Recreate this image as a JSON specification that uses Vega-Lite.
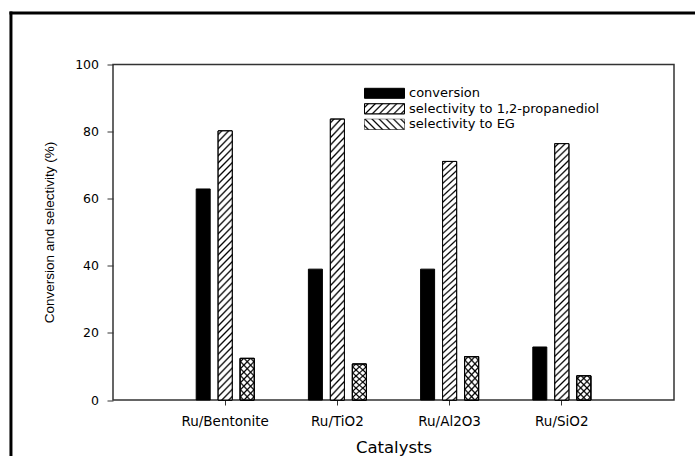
{
  "$schema": "https://vega.github.io/schema/vega-lite/v6.json",
  "width": 561,
  "height": 335.5,
  "autosize": {"type": "none"},
  "padding": {"left": 113, "top": 64.5, "right": 21, "bottom": 56},
  "background": "white",
  "config": {
    "view": {"stroke": "#333", "strokeWidth": 1.5},
    "font": "DejaVu Sans"
  },
  "data": {"values": [
    {"catalyst": "Ru/Bentonite", "series": "conversion", "value": 62.9},
    {"catalyst": "Ru/Bentonite", "series": "selectivity to 1,2-propanediol", "value": 80.2},
    {"catalyst": "Ru/Bentonite", "series": "selectivity to EG", "value": 12.4},
    {"catalyst": "Ru/TiO2", "series": "conversion", "value": 39.0},
    {"catalyst": "Ru/TiO2", "series": "selectivity to 1,2-propanediol", "value": 83.7},
    {"catalyst": "Ru/TiO2", "series": "selectivity to EG", "value": 10.7},
    {"catalyst": "Ru/Al2O3", "series": "conversion", "value": 39.0},
    {"catalyst": "Ru/Al2O3", "series": "selectivity to 1,2-propanediol", "value": 71.1},
    {"catalyst": "Ru/Al2O3", "series": "selectivity to EG", "value": 12.9},
    {"catalyst": "Ru/SiO2", "series": "conversion", "value": 15.8},
    {"catalyst": "Ru/SiO2", "series": "selectivity to 1,2-propanediol", "value": 76.4},
    {"catalyst": "Ru/SiO2", "series": "selectivity to EG", "value": 7.2}
  ]},
  "resolve": {"scale": {"x": "independent", "xOffset": "independent"}},
  "layer": [
    {
      "mark": {"type": "bar", "stroke": "black", "strokeWidth": 1},
      "encoding": {
        "x": {
          "field": "catalyst", "type": "nominal",
          "scale": {"domain": ["Ru/Bentonite", "Ru/TiO2", "Ru/Al2O3", "Ru/SiO2"], "paddingInner": 0.4831, "paddingOuter": 0.74155},
          "axis": {
            "domain": false, "grid": false, "tickSize": 5, "tickColor": "#333", "tickWidth": 1,
            "labelAngle": 0, "labelFont": "DejaVu Sans", "labelFontSize": 13.5, "labelColor": "black",
            "labelBaseline": "middle", "labelPadding": 16,
            "title": "Catalysts", "titleFont": "DejaVu Sans", "titleFontSize": 16.5, "titleFontWeight": "normal",
            "titleColor": "black", "titleX": 280.5, "titleY": 47, "titleBaseline": "middle", "titleAlign": "center"
          }
        },
        "xOffset": {
          "field": "series", "type": "nominal",
          "scale": {"domain": ["conversion", "selectivity to 1,2-propanediol", "selectivity to EG"], "paddingInner": 0.3636, "paddingOuter": 0}
        },
        "y": {
          "field": "value", "type": "quantitative",
          "scale": {"domain": [0, 100], "nice": false, "zero": false},
          "axis": {
            "orient": "left", "tickCount": 5, "domain": false, "grid": false,
            "tickSize": 6, "tickColor": "#333", "tickWidth": 1,
            "labelFont": "DejaVu Sans", "labelFontSize": 12.5, "labelColor": "black", "labelPadding": 8.5,
            "title": "Conversion and selectivity (%)", "titleFont": "Liberation Sans", "titleFontSize": 13.5,
            "titleFontWeight": "normal", "titleColor": "black", "titleX": -64, "titleY": 167.5,
            "titleBaseline": "middle", "titleAlign": "center"
          }
        },
        "y2": {"datum": 0},
        "color": {
          "field": "series", "type": "nominal",
          "scale": {
            "domain": ["conversion", "selectivity to 1,2-propanediol", "selectivity to EG"],
            "range": ["black", "white", "white"]
          },
          "legend": {
            "orient": "none", "legendX": 250, "legendY": 22.3, "title": null, "padding": 0,
            "symbolType": "M-1,-1H7V1H-1Z", "symbolSize": 100, "symbolStrokeColor": "black", "symbolStrokeWidth": 1,
            "symbolOpacity": 1, "labelOffset": 33, "labelFont": "DejaVu Sans", "labelFontSize": 13,
            "labelColor": "black", "labelLimit": 400, "rowPadding": 0.5
          }
        }
      }
    },
    {
      "transform": [{"filter": "datum.series === 'selectivity to 1,2-propanediol'"}],
      "mark": {"type": "bar", "strokeWidth": 1, "fill": {"gradient": "linear", "x1": 0, "y1": 0, "x2": 1.1765, "y2": 0.2941, "stops": [
        {"offset": 0.037, "color": "#fff"}, {"offset": 0.0714, "color": "#000"}, {"offset": 0.105, "color": "#fff"},
        {"offset": 0.18, "color": "#fff"}, {"offset": 0.2143, "color": "#000"}, {"offset": 0.248, "color": "#fff"},
        {"offset": 0.323, "color": "#fff"}, {"offset": 0.3571, "color": "#000"}, {"offset": 0.391, "color": "#fff"},
        {"offset": 0.466, "color": "#fff"}, {"offset": 0.5, "color": "#000"}, {"offset": 0.534, "color": "#fff"},
        {"offset": 0.609, "color": "#fff"}, {"offset": 0.6429, "color": "#000"}, {"offset": 0.677, "color": "#fff"},
        {"offset": 0.752, "color": "#fff"}, {"offset": 0.7857, "color": "#000"}, {"offset": 0.82, "color": "#fff"},
        {"offset": 0.895, "color": "#fff"}, {"offset": 0.9286, "color": "#000"}, {"offset": 0.963, "color": "#fff"}
      ]}},
      "encoding": {
        "x": {"field": "catalyst", "type": "nominal", "axis": null,
          "scale": {"domain": ["Ru/Bentonite", "Ru/TiO2", "Ru/Al2O3", "Ru/SiO2"], "paddingInner": 0.4831, "paddingOuter": 0.74155}},
        "xOffset": {"field": "series", "type": "nominal",
          "scale": {"domain": ["conversion", "selectivity to 1,2-propanediol", "selectivity to EG"], "paddingInner": 0.3636, "paddingOuter": 0}},
        "y": {"field": "value", "type": "quantitative"},
        "y2": {"datum": 0},
        "stroke": {
          "field": "series", "type": "nominal", "scale": {"range": ["black"]},
          "legend": {
            "orient": "none", "legendX": 250, "legendY": 37.8, "title": null, "padding": 0,
            "symbolType": "M-1,-1H7V1H-1Z", "symbolSize": 100, "symbolStrokeWidth": 1,
            "symbolOpacity": 1, "labelOffset": 33, "labelFont": "DejaVu Sans", "labelFontSize": 13,
            "labelOpacity": 0, "labelLimit": 400
          }
        }
      }
    },
    {
      "transform": [{"filter": "datum.series === 'selectivity to EG'"}],
      "mark": {"type": "bar", "stroke": "black", "strokeWidth": 1, "fill": {"gradient": "linear", "x1": 0, "y1": 1, "x2": 1.1765, "y2": 0.7059, "stops": [
        {"offset": 0.037, "color": "#fff"}, {"offset": 0.0714, "color": "#000"}, {"offset": 0.105, "color": "#fff"},
        {"offset": 0.18, "color": "#fff"}, {"offset": 0.2143, "color": "#000"}, {"offset": 0.248, "color": "#fff"},
        {"offset": 0.323, "color": "#fff"}, {"offset": 0.3571, "color": "#000"}, {"offset": 0.391, "color": "#fff"},
        {"offset": 0.466, "color": "#fff"}, {"offset": 0.5, "color": "#000"}, {"offset": 0.534, "color": "#fff"},
        {"offset": 0.609, "color": "#fff"}, {"offset": 0.6429, "color": "#000"}, {"offset": 0.677, "color": "#fff"},
        {"offset": 0.752, "color": "#fff"}, {"offset": 0.7857, "color": "#000"}, {"offset": 0.82, "color": "#fff"},
        {"offset": 0.895, "color": "#fff"}, {"offset": 0.9286, "color": "#000"}, {"offset": 0.963, "color": "#fff"}
      ]}},
      "encoding": {
        "x": {"field": "catalyst", "type": "nominal", "axis": null,
          "scale": {"domain": ["Ru/Bentonite", "Ru/TiO2", "Ru/Al2O3", "Ru/SiO2"], "paddingInner": 0.4831, "paddingOuter": 0.74155}},
        "xOffset": {"field": "series", "type": "nominal",
          "scale": {"domain": ["conversion", "selectivity to 1,2-propanediol", "selectivity to EG"], "paddingInner": 0.3636, "paddingOuter": 0}},
        "y": {"field": "value", "type": "quantitative"},
        "y2": {"datum": 0},
        "opacity": {
          "field": "series", "type": "nominal", "scale": {"range": [1]},
          "legend": {
            "orient": "none", "legendX": 250, "legendY": 53.3, "title": null, "padding": 0,
            "symbolType": "M-1,-1H7V1H-1Z", "symbolSize": 100, "symbolStrokeColor": "black", "symbolStrokeWidth": 1,
            "labelOffset": 33, "labelFont": "DejaVu Sans", "labelFontSize": 13,
            "labelOpacity": 0, "labelLimit": 400
          }
        }
      }
    },
    {
      "transform": [{"filter": "datum.series === 'selectivity to 1,2-propanediol'"}],
      "mark": {"type": "bar", "stroke": "black", "strokeWidth": 1},
      "encoding": {
        "x": {"field": "catalyst", "type": "nominal", "axis": null,
          "scale": {"domain": ["Ru/Bentonite", "Ru/TiO2", "Ru/Al2O3", "Ru/SiO2"], "paddingInner": 0.4831, "paddingOuter": 0.74155}},
        "xOffset": {"field": "series", "type": "nominal",
          "scale": {"domain": ["conversion", "selectivity to 1,2-propanediol", "selectivity to EG"], "paddingInner": 0.3636, "paddingOuter": 0}},
        "y": {"field": "value", "type": "quantitative"},
        "y2": {"datum": 0},
        "fill": {"value": {"gradient": "linear", "x1": 0, "y1": 0, "x2": 0.0561, "y2": 1.0504, "stops": [
          {"offset": 0.006, "color": "#fff"}, {"offset": 0.0125, "color": "#000"}, {"offset": 0.019, "color": "#fff"},
          {"offset": 0.031, "color": "#fff"}, {"offset": 0.0375, "color": "#000"}, {"offset": 0.044, "color": "#fff"},
          {"offset": 0.056, "color": "#fff"}, {"offset": 0.0625, "color": "#000"}, {"offset": 0.069, "color": "#fff"},
          {"offset": 0.081, "color": "#fff"}, {"offset": 0.0875, "color": "#000"}, {"offset": 0.094, "color": "#fff"},
          {"offset": 0.106, "color": "#fff"}, {"offset": 0.1125, "color": "#000"}, {"offset": 0.119, "color": "#fff"},
          {"offset": 0.131, "color": "#fff"}, {"offset": 0.1375, "color": "#000"}, {"offset": 0.144, "color": "#fff"},
          {"offset": 0.156, "color": "#fff"}, {"offset": 0.1625, "color": "#000"}, {"offset": 0.169, "color": "#fff"},
          {"offset": 0.181, "color": "#fff"}, {"offset": 0.1875, "color": "#000"}, {"offset": 0.194, "color": "#fff"},
          {"offset": 0.206, "color": "#fff"}, {"offset": 0.2125, "color": "#000"}, {"offset": 0.219, "color": "#fff"},
          {"offset": 0.231, "color": "#fff"}, {"offset": 0.2375, "color": "#000"}, {"offset": 0.244, "color": "#fff"},
          {"offset": 0.256, "color": "#fff"}, {"offset": 0.2625, "color": "#000"}, {"offset": 0.269, "color": "#fff"},
          {"offset": 0.281, "color": "#fff"}, {"offset": 0.2875, "color": "#000"}, {"offset": 0.294, "color": "#fff"},
          {"offset": 0.306, "color": "#fff"}, {"offset": 0.3125, "color": "#000"}, {"offset": 0.319, "color": "#fff"},
          {"offset": 0.331, "color": "#fff"}, {"offset": 0.3375, "color": "#000"}, {"offset": 0.344, "color": "#fff"},
          {"offset": 0.356, "color": "#fff"}, {"offset": 0.3625, "color": "#000"}, {"offset": 0.369, "color": "#fff"},
          {"offset": 0.381, "color": "#fff"}, {"offset": 0.3875, "color": "#000"}, {"offset": 0.394, "color": "#fff"},
          {"offset": 0.406, "color": "#fff"}, {"offset": 0.4125, "color": "#000"}, {"offset": 0.419, "color": "#fff"},
          {"offset": 0.431, "color": "#fff"}, {"offset": 0.4375, "color": "#000"}, {"offset": 0.444, "color": "#fff"},
          {"offset": 0.456, "color": "#fff"}, {"offset": 0.4625, "color": "#000"}, {"offset": 0.469, "color": "#fff"},
          {"offset": 0.481, "color": "#fff"}, {"offset": 0.4875, "color": "#000"}, {"offset": 0.494, "color": "#fff"},
          {"offset": 0.506, "color": "#fff"}, {"offset": 0.5125, "color": "#000"}, {"offset": 0.519, "color": "#fff"},
          {"offset": 0.531, "color": "#fff"}, {"offset": 0.5375, "color": "#000"}, {"offset": 0.544, "color": "#fff"},
          {"offset": 0.556, "color": "#fff"}, {"offset": 0.5625, "color": "#000"}, {"offset": 0.569, "color": "#fff"},
          {"offset": 0.581, "color": "#fff"}, {"offset": 0.5875, "color": "#000"}, {"offset": 0.594, "color": "#fff"},
          {"offset": 0.606, "color": "#fff"}, {"offset": 0.6125, "color": "#000"}, {"offset": 0.619, "color": "#fff"},
          {"offset": 0.631, "color": "#fff"}, {"offset": 0.6375, "color": "#000"}, {"offset": 0.644, "color": "#fff"},
          {"offset": 0.656, "color": "#fff"}, {"offset": 0.6625, "color": "#000"}, {"offset": 0.669, "color": "#fff"},
          {"offset": 0.681, "color": "#fff"}, {"offset": 0.6875, "color": "#000"}, {"offset": 0.694, "color": "#fff"},
          {"offset": 0.706, "color": "#fff"}, {"offset": 0.7125, "color": "#000"}, {"offset": 0.719, "color": "#fff"},
          {"offset": 0.731, "color": "#fff"}, {"offset": 0.7375, "color": "#000"}, {"offset": 0.744, "color": "#fff"},
          {"offset": 0.756, "color": "#fff"}, {"offset": 0.7625, "color": "#000"}, {"offset": 0.769, "color": "#fff"},
          {"offset": 0.781, "color": "#fff"}, {"offset": 0.7875, "color": "#000"}, {"offset": 0.794, "color": "#fff"},
          {"offset": 0.806, "color": "#fff"}, {"offset": 0.8125, "color": "#000"}, {"offset": 0.819, "color": "#fff"},
          {"offset": 0.831, "color": "#fff"}, {"offset": 0.8375, "color": "#000"}, {"offset": 0.844, "color": "#fff"},
          {"offset": 0.856, "color": "#fff"}, {"offset": 0.8625, "color": "#000"}, {"offset": 0.869, "color": "#fff"},
          {"offset": 0.881, "color": "#fff"}, {"offset": 0.8875, "color": "#000"}, {"offset": 0.894, "color": "#fff"},
          {"offset": 0.906, "color": "#fff"}, {"offset": 0.9125, "color": "#000"}, {"offset": 0.919, "color": "#fff"},
          {"offset": 0.931, "color": "#fff"}, {"offset": 0.9375, "color": "#000"}, {"offset": 0.944, "color": "#fff"},
          {"offset": 0.956, "color": "#fff"}, {"offset": 0.9625, "color": "#000"}, {"offset": 0.969, "color": "#fff"},
          {"offset": 0.981, "color": "#fff"}, {"offset": 0.9875, "color": "#000"}, {"offset": 0.994, "color": "#fff"}
        ]}}
      }
    },
    {
      "transform": [{"filter": "datum.series === 'selectivity to EG'"}],
      "mark": {"type": "bar", "stroke": "black", "strokeWidth": 1},
      "encoding": {
        "x": {"field": "catalyst", "type": "nominal", "axis": null,
          "scale": {"domain": ["Ru/Bentonite", "Ru/TiO2", "Ru/Al2O3", "Ru/SiO2"], "paddingInner": 0.4831, "paddingOuter": 0.74155}},
        "xOffset": {"field": "series", "type": "nominal",
          "scale": {"domain": ["conversion", "selectivity to 1,2-propanediol", "selectivity to EG"], "paddingInner": 0.3636, "paddingOuter": 0}},
        "y": {"field": "value", "type": "quantitative"},
        "y2": {"datum": 0},
        "fill": {
          "condition": {"test": "datum.catalyst === 'Ru/SiO2'", "value": {"gradient": "linear", "x1": 0, "y1": 1, "x2": 0.6891, "y2": -0.1813, "stops": [
            {"offset": 0.038, "color": "#fff"}, {"offset": 0.0833, "color": "#000"}, {"offset": 0.128, "color": "#fff"},
            {"offset": 0.205, "color": "#fff"}, {"offset": 0.25, "color": "#000"}, {"offset": 0.295, "color": "#fff"},
            {"offset": 0.372, "color": "#fff"}, {"offset": 0.4167, "color": "#000"}, {"offset": 0.462, "color": "#fff"},
            {"offset": 0.538, "color": "#fff"}, {"offset": 0.5833, "color": "#000"}, {"offset": 0.628, "color": "#fff"},
            {"offset": 0.705, "color": "#fff"}, {"offset": 0.75, "color": "#000"}, {"offset": 0.795, "color": "#fff"},
            {"offset": 0.872, "color": "#fff"}, {"offset": 0.9167, "color": "#000"}, {"offset": 0.962, "color": "#fff"}
          ]}},
          "value": {"gradient": "linear", "x1": 0, "y1": 1, "x2": 0.4209, "y2": -0.2027, "stops": [
            {"offset": 0.031, "color": "#fff"}, {"offset": 0.0625, "color": "#000"}, {"offset": 0.094, "color": "#fff"},
            {"offset": 0.156, "color": "#fff"}, {"offset": 0.1875, "color": "#000"}, {"offset": 0.219, "color": "#fff"},
            {"offset": 0.281, "color": "#fff"}, {"offset": 0.3125, "color": "#000"}, {"offset": 0.344, "color": "#fff"},
            {"offset": 0.406, "color": "#fff"}, {"offset": 0.4375, "color": "#000"}, {"offset": 0.469, "color": "#fff"},
            {"offset": 0.531, "color": "#fff"}, {"offset": 0.5625, "color": "#000"}, {"offset": 0.594, "color": "#fff"},
            {"offset": 0.656, "color": "#fff"}, {"offset": 0.6875, "color": "#000"}, {"offset": 0.719, "color": "#fff"},
            {"offset": 0.781, "color": "#fff"}, {"offset": 0.8125, "color": "#000"}, {"offset": 0.844, "color": "#fff"},
            {"offset": 0.906, "color": "#fff"}, {"offset": 0.9375, "color": "#000"}, {"offset": 0.969, "color": "#fff"}
          ]}
        }
      }
    },
    {
      "transform": [{"filter": "datum.series === 'selectivity to EG'"}],
      "mark": {"type": "bar", "stroke": "black", "strokeWidth": 1},
      "encoding": {
        "x": {"field": "catalyst", "type": "nominal", "axis": null,
          "scale": {"domain": ["Ru/Bentonite", "Ru/TiO2", "Ru/Al2O3", "Ru/SiO2"], "paddingInner": 0.4831, "paddingOuter": 0.74155}},
        "xOffset": {"field": "series", "type": "nominal",
          "scale": {"domain": ["conversion", "selectivity to 1,2-propanediol", "selectivity to EG"], "paddingInner": 0.3636, "paddingOuter": 0}},
        "y": {"field": "value", "type": "quantitative"},
        "y2": {"datum": 0},
        "fill": {
          "condition": {"test": "datum.catalyst === 'Ru/SiO2'", "value": {"gradient": "linear", "x1": 0, "y1": 0, "x2": 0.6891, "y2": 1.1813, "stops": [
            {"offset": 0.038, "color": "rgba(0,0,0,0)"}, {"offset": 0.0833, "color": "#000"}, {"offset": 0.128, "color": "rgba(0,0,0,0)"},
            {"offset": 0.205, "color": "rgba(0,0,0,0)"}, {"offset": 0.25, "color": "#000"}, {"offset": 0.295, "color": "rgba(0,0,0,0)"},
            {"offset": 0.372, "color": "rgba(0,0,0,0)"}, {"offset": 0.4167, "color": "#000"}, {"offset": 0.462, "color": "rgba(0,0,0,0)"},
            {"offset": 0.538, "color": "rgba(0,0,0,0)"}, {"offset": 0.5833, "color": "#000"}, {"offset": 0.628, "color": "rgba(0,0,0,0)"},
            {"offset": 0.705, "color": "rgba(0,0,0,0)"}, {"offset": 0.75, "color": "#000"}, {"offset": 0.795, "color": "rgba(0,0,0,0)"},
            {"offset": 0.872, "color": "rgba(0,0,0,0)"}, {"offset": 0.9167, "color": "#000"}, {"offset": 0.962, "color": "rgba(0,0,0,0)"}
          ]}},
          "value": {"gradient": "linear", "x1": 0, "y1": 0, "x2": 0.4209, "y2": 1.2027, "stops": [
            {"offset": 0.031, "color": "rgba(0,0,0,0)"}, {"offset": 0.0625, "color": "#000"}, {"offset": 0.094, "color": "rgba(0,0,0,0)"},
            {"offset": 0.156, "color": "rgba(0,0,0,0)"}, {"offset": 0.1875, "color": "#000"}, {"offset": 0.219, "color": "rgba(0,0,0,0)"},
            {"offset": 0.281, "color": "rgba(0,0,0,0)"}, {"offset": 0.3125, "color": "#000"}, {"offset": 0.344, "color": "rgba(0,0,0,0)"},
            {"offset": 0.406, "color": "rgba(0,0,0,0)"}, {"offset": 0.4375, "color": "#000"}, {"offset": 0.469, "color": "rgba(0,0,0,0)"},
            {"offset": 0.531, "color": "rgba(0,0,0,0)"}, {"offset": 0.5625, "color": "#000"}, {"offset": 0.594, "color": "rgba(0,0,0,0)"},
            {"offset": 0.656, "color": "rgba(0,0,0,0)"}, {"offset": 0.6875, "color": "#000"}, {"offset": 0.719, "color": "rgba(0,0,0,0)"},
            {"offset": 0.781, "color": "rgba(0,0,0,0)"}, {"offset": 0.8125, "color": "#000"}, {"offset": 0.844, "color": "rgba(0,0,0,0)"},
            {"offset": 0.906, "color": "rgba(0,0,0,0)"}, {"offset": 0.9375, "color": "#000"}, {"offset": 0.969, "color": "rgba(0,0,0,0)"}
          ]}
        }
      }
    },
    {
      "data": {"values": [{"frame": "outer top edge"}]},
      "mark": {"type": "rule", "color": "black", "strokeWidth": 3, "strokeCap": "square"},
      "encoding": {
        "x": {"datum": -0.9095, "type": "quantitative", "scale": {"domain": [0, 5], "nice": false, "zero": false}, "axis": null},
        "x2": {"datum": 5.5},
        "y": {"datum": 115.35, "type": "quantitative"}
      }
    },
    {
      "data": {"values": [{"frame": "outer left edge"}]},
      "mark": {"type": "rule", "color": "black", "strokeWidth": 3, "strokeCap": "square"},
      "encoding": {
        "x": {"datum": -0.9095, "type": "quantitative", "scale": {"domain": [0, 5], "nice": false, "zero": false}, "axis": null},
        "y": {"datum": -20, "type": "quantitative"},
        "y2": {"datum": 115.35}
      }
    }
  ]
}
